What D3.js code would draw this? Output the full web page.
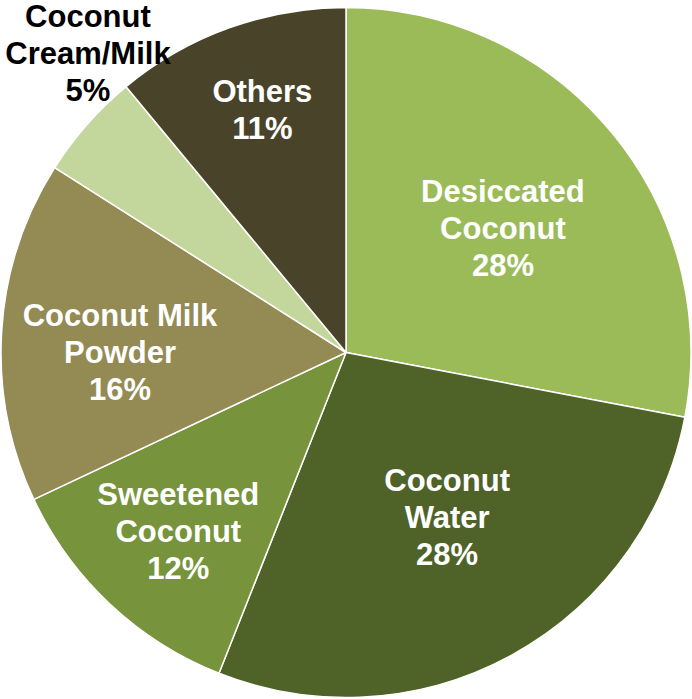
<!DOCTYPE html>
<html>
<head>
<meta charset="utf-8">
<script src="https://cdn.jsdelivr.net/npm/d3@7"></script>
<style>
  html, body { margin: 0; padding: 0; background: #ffffff; }
  svg { display: block; }
</style>
</head>
<body>
<svg id="chart" width="692" height="699"></svg>
<script>
// ---- data ----
const categories = ["Desiccated Coconut", "Coconut Water", "Sweetened Coconut", "Coconut Milk Powder", "Coconut Cream/Milk", "Others"];
const values = [28, 28, 12, 16, 5, 11];
const labelLines = [
  ["Desiccated", "Coconut", "28%"],
  ["Coconut", "Water", "28%"],
  ["Sweetened", "Coconut", "12%"],
  ["Coconut Milk", "Powder", "16%"],
  ["Coconut", "Cream/Milk", "5%"],
  ["Others", "11%"]
];
const colors = ["#9BBB59", "#4F6228", "#77933C", "#948A54", "#C3D69B", "#494429"];
const textColors = ["#ffffff", "#ffffff", "#ffffff", "#ffffff", "#000000", "#ffffff"];
// label placement (polar: angle in degrees clockwise from 12 o'clock, radius in px)
const labelAngle = [51.7, 148.4, 223.2, 270, 319.25, 341];
const labelRadius = [200, 193, 245, 226, 395.3, 257];

// ---- layout ----
const cx = 346, cy = 352.5, R = 345;
const svg = d3.select("#chart");
const g = svg.append("g").attr("transform", `translate(${cx},${cy})`);

const pie = d3.pie().sort(null).value(d => d)(values);
const arc = d3.arc().innerRadius(0).outerRadius(R);

g.selectAll("path.slice")
  .data(pie)
  .join("path")
  .attr("class", "slice")
  .attr("d", arc)
  .attr("fill", (d, i) => colors[i])
  .attr("stroke", "#ffffff")
  .attr("stroke-width", 1.5)
  .attr("stroke-linejoin", "round");

const lh = 37;
const labels = g.selectAll("text.lbl")
  .data(pie)
  .join("text")
  .attr("class", "lbl")
  .attr("transform", (d, i) => {
    const a = labelAngle[i] * Math.PI / 180;
    const r = labelRadius[i];
    return `translate(${r * Math.sin(a)},${-r * Math.cos(a)})`;
  })
  .attr("text-anchor", "middle")
  .attr("font-family", "'Liberation Sans', Arial, sans-serif")
  .attr("font-weight", "bold")
  .attr("font-size", 31)
  .attr("fill", (d, i) => textColors[i]);

labels.each(function(d, i) {
  const lines = labelLines[i];
  const n = lines.length;
  d3.select(this).selectAll("tspan")
    .data(lines)
    .join("tspan")
    .attr("x", 0)
    .attr("y", (t, j) => (j - (n - 1) / 2) * lh)
    .attr("dy", "0.35em")
    .text(t => t);
});
</script>
</body>
</html>
